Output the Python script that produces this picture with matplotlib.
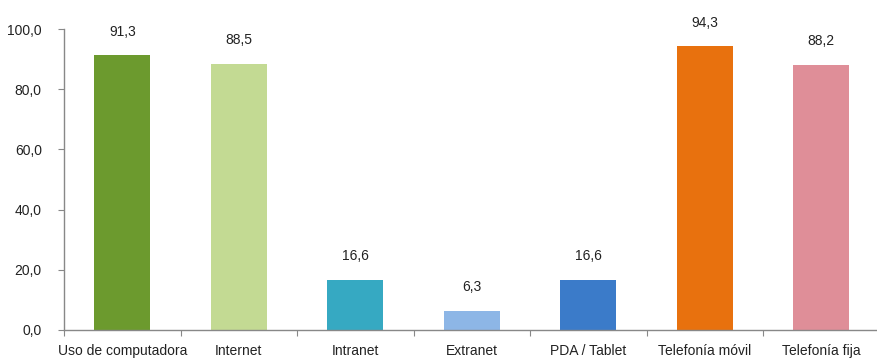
import matplotlib
matplotlib.use('Agg')
import matplotlib.pyplot as plt
import numpy as np

# Uso de TIC en las empresas (%)
categorias = ["Uso de computadora", "Internet", "Intranet", "Extranet",
              "PDA / Tablet", "Telefonía móvil", "Telefonía fija"]
valores = [91.3, 88.5, 16.6, 6.3, 16.6, 94.3, 88.2]
colores = ["#6c9a2e", "#c3da93", "#36a9c2", "#8db6e6",
           "#3b7bc9", "#e8710e", "#df8e98"]
yticks = [0, 20, 40, 60, 80, 100]

plt.rcParams['font.family'] = ['Liberation Sans', 'DejaVu Sans']

fig = plt.figure(figsize=(8.77, 3.63), dpi=100)
ax = fig.add_axes([0.073, 0.091, 0.93, 0.829])

x = np.arange(len(categorias))
barras = ax.bar(x, valores, width=0.48, color=colores)

for xi, v in zip(x, valores):
    ax.text(xi, v + 5.5, f"{v:.1f}".replace(".", ","), ha='center', va='bottom',
            fontsize=10, color='#222222')

ax.set_xlim(-0.5, len(categorias) - 0.5)
ax.set_ylim(0, 100)
ax.set_yticks(yticks)
ax.set_yticklabels([f"{t:.1f}".replace(".", ",") for t in yticks],
                   fontsize=10, color='#222222')

# marcas del eje x en los límites de cada categoría
ax.set_xticks(np.arange(len(categorias) + 1) - 0.5)
ax.set_xticklabels([])
ax.set_xticks(x, minor=True)
ax.set_xticklabels(categorias, minor=True, fontsize=10, color='#222222')
ax.tick_params(axis='x', which='minor', length=0, pad=10)
ax.tick_params(axis='x', which='major', length=4, color='#888888', direction='out')
ax.tick_params(axis='y', length=4, color='#888888', direction='out', pad=12)

for lado in ['top', 'right']:
    ax.spines[lado].set_visible(False)
for lado in ['left', 'bottom']:
    ax.spines[lado].set_color('#888888')
    ax.spines[lado].set_linewidth(1.0)

fig.savefig("out.png", dpi=100)
